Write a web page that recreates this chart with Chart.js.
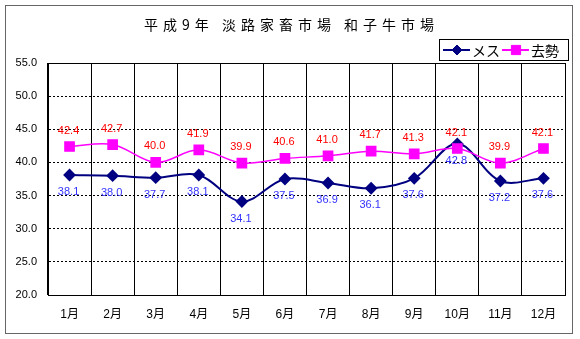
<!DOCTYPE html>
<html>
<head>
<meta charset="utf-8">
<script src="https://cdn.jsdelivr.net/npm/chart.js@4"></script>
<style>
  body { margin: 0; background: #fff; }
  #wrap { width: 580px; height: 339px; }
</style>
</head>
<body>
<div id="wrap"><canvas id="chartone" width="580" height="339"></canvas></div>
<script>
// 平成9年 淡路家畜市場 和子牛市場 月別平均
const titleText = '平成9年 淡路家畜市場 和子牛市場';
const months = ['1月', '2月', '3月', '4月', '5月', '6月', '7月', '8月', '9月', '10月', '11月', '12月'];
const mesu = [38.1, 38.0, 37.7, 38.1, 34.1, 37.5, 36.9, 36.1, 37.6, 42.8, 37.2, 37.6];
const kyosei = [42.4, 42.7, 40.0, 41.9, 39.9, 40.6, 41.0, 41.7, 41.3, 42.1, 39.9, 42.1];
const yTicks = [20, 25, 30, 35, 40, 45, 50, 55];

const LATIN = '"Liberation Sans", Arial, "Noto Sans CJK JP", sans-serif';
const CJK = '"Noto Sans CJK JP", "Liberation Sans", sans-serif';

// frame, title, custom legend, value labels
const decorPlugin = {
  id: 'decor',
  beforeDraw(chart) {
    const ctx = chart.ctx;
    ctx.save();
    ctx.fillStyle = '#fff';
    ctx.fillRect(0, 0, chart.width, chart.height);
    ctx.strokeStyle = '#666';
    ctx.lineWidth = 1;
    ctx.strokeRect(5.5, 5.5, 567, 328);
    ctx.restore();
  },
  afterDatasetsDraw(chart) {
    const ctx = chart.ctx;
    ctx.save();

    // value labels: 去勢 above, メス below
    ctx.font = '11px ' + LATIN;
    ctx.textAlign = 'center';
    ctx.textBaseline = 'middle';
    chart.data.datasets.forEach((ds, i) => {
      const meta = chart.getDatasetMeta(i);
      meta.data.forEach((pt, j) => {
        ctx.fillStyle = ds.labelColor;
        const dy = ds.labelAbove ? -16 : 17;
        ctx.fillText(ds.data[j].toFixed(1), pt.x - 1, pt.y + dy);
      });
    });

    // title
    ctx.font = '14px ' + CJK;
    ctx.letterSpacing = '5px';
    ctx.fillStyle = '#000';
    ctx.textAlign = 'left';
    const w = ctx.measureText(titleText).width - 5;
    ctx.fillText(titleText, 289 - w / 2, 25);
    ctx.letterSpacing = '0px';

    // legend box
    ctx.fillStyle = '#fff';
    ctx.fillRect(439.5, 39.5, 129, 21);
    ctx.strokeStyle = '#000';
    ctx.lineWidth = 1;
    ctx.strokeRect(439.5, 39.5, 129, 21);
    const ly = 50;
    const items = [chart.data.datasets[1], chart.data.datasets[0]];
    const starts = [443, 502];
    ctx.font = '14px ' + CJK;
    items.forEach((ds, k) => {
      const x0 = starts[k];
      ctx.strokeStyle = ds.borderColor;
      ctx.fillStyle = ds.borderColor;
      ctx.lineWidth = 2;
      ctx.beginPath();
      ctx.moveTo(x0, ly);
      ctx.lineTo(x0 + 27, ly);
      ctx.stroke();
      ctx.lineWidth = 1;
      Chart.helpers.drawPoint(ctx, {
        pointStyle: ds.pointStyle,
        radius: ds.pointRadius,
        borderWidth: 1
      }, x0 + 14, ly);
      ctx.fillStyle = '#000';
      ctx.fillText(ds.label, x0 + 29, ly + 1);
    });
    ctx.restore();
  }
};

const ctx = document.getElementById('chartone').getContext('2d');
window.myChartOne = new Chart(ctx, {
  type: 'line',
  data: {
    labels: months,
    datasets: [
      {
        label: '去勢',
        data: kyosei,
        borderColor: '#ff00ff',
        backgroundColor: '#ff00ff',
        pointBackgroundColor: '#ff00ff',
        pointBorderColor: '#ff00ff',
        pointStyle: 'rect',
        pointRadius: 6.5,
        borderWidth: 1.5,
        tension: 0.35,
        labelColor: '#ff0000',
        labelAbove: true,
        order: 1
      },
      {
        label: 'メス',
        data: mesu,
        borderColor: '#000080',
        backgroundColor: '#000080',
        pointBackgroundColor: '#000080',
        pointBorderColor: '#000080',
        pointStyle: 'rectRot',
        pointRadius: 5,
        borderWidth: 2,
        tension: 0.35,
        labelColor: '#3333ff',
        labelAbove: false,
        order: 2
      }
    ]
  },
  options: {
    responsive: false,
    animation: false,
    layout: { padding: { top: 63, right: 15, bottom: 0, left: 0 } },
    plugins: {
      legend: { display: false },
      title: { display: false },
      tooltip: { enabled: false }
    },
    scales: {
      x: {
        offset: true,
        grid: { offset: true, color: '#000', lineWidth: 1, drawTicks: false },
        border: { color: '#000', width: 1 },
        ticks: {
          color: '#000',
          padding: 12,
          font: { family: LATIN, size: 12 },
          maxRotation: 0,
          autoSkip: false
        },
        afterFit(scale) { scale.height = 44; }
      },
      y: {
        min: 20,
        max: 55,
        afterBuildTicks(scale) {
          scale.ticks = yTicks.map(v => ({ value: v }));
        },
        grid: { color: '#000', lineWidth: 1, drawTicks: false },
        border: {
          color: '#000',
          width: 1,
          dash: (c) => (c.tick && (c.tick.value === 20 || c.tick.value === 55)) ? [] : [2, 2]
        },
        ticks: {
          color: '#000',
          padding: 11,
          font: { family: LATIN, size: 11 },
          callback: (v) => Number(v).toFixed(1)
        },
        afterFit(scale) { scale.width = 48; }
      }
    }
  },
  plugins: [decorPlugin]
});
</script>
</body>
</html>
